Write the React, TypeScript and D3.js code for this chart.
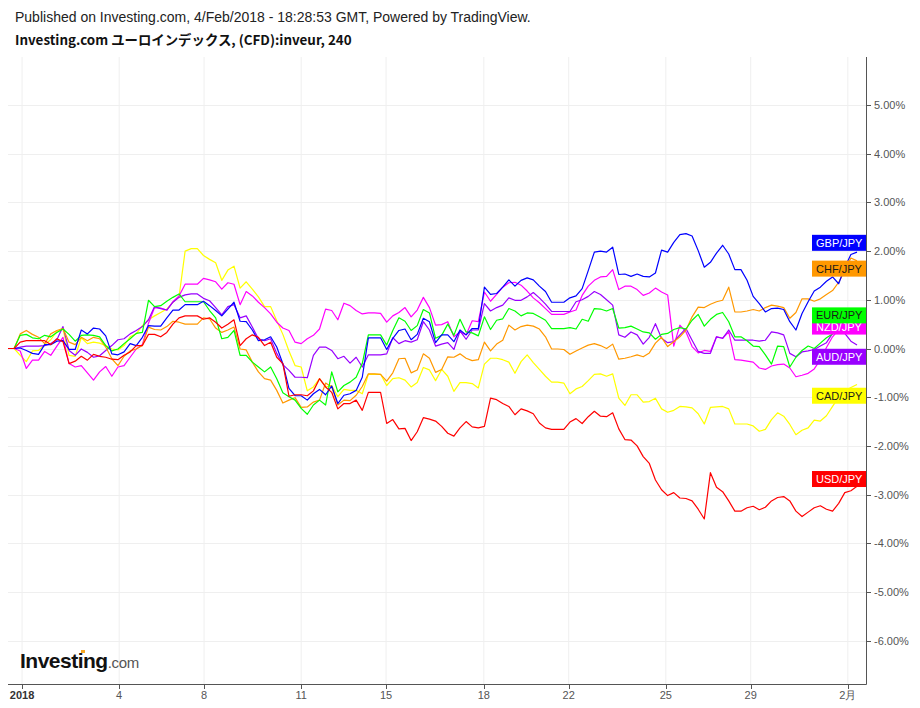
import React from "react";
import * as d3 from "d3";

// ---- data (percent change, 4H bars) ----
const seriesNames = ["GBP/JPY", "CHF/JPY", "EUR/JPY", "NZD/JPY", "AUD/JPY", "CAD/JPY", "USD/JPY"];

const gbp = [0,0,0.01,-0.04,-0.10,-0.12,0.08,0.08,0.15,0.16,-0.02,-0.02,0.38,0.30,0.42,0.40,0.26,-0.11,-0.13,-0.07,0.10,0.06,0.23,0.47,0.46,0.46,0.63,0.79,0.79,0.90,0.90,0.90,0.97,0.88,
0.78,0.67,0.81,0.95,0.56,0.55,0.38,0.16,0.18,0.24,0.03,-0.31,-0.82,-0.97,-0.97,-1.06,-0.93,-0.84,-0.95,-0.77,-1.13,-0.96,-0.93,-0.86,-0.59,0.22,0.22,0.22,-0.02,0.21,0.37,0.40,0.18,0.29,0.62,
0.55,0.12,0.28,0.28,0.14,0.38,0.28,0.41,0.41,1.26,1.11,1.13,1.26,1.41,1.28,1.40,1.45,1.41,1.28,1.17,0.95,0.95,0.95,1.04,1.08,1.23,1.60,1.98,2.00,1.98,2.08,1.52,1.53,1.48,1.53,1.48,
1.47,1.55,2.02,1.98,2.18,2.34,2.36,2.31,2.01,1.67,1.77,1.96,2.12,1.94,1.62,1.62,1.40,1.07,0.92,0.75,0.82,0.83,0.80,0.55,0.38,0.72,0.96,1.18,1.26,1.38,1.47,1.33,1.67,1.93,1.98];

const chf = [0,0,0.30,0.37,0.29,0.23,0.10,0.30,0.37,0.41,0.13,0.08,0.23,0.16,0.23,0.20,0.03,-0.21,-0.35,-0.16,-0.05,-0.01,0.06,0.44,0.39,0.38,0.45,0.56,0.54,0.50,0.50,0.50,0.63,0.61,
0.42,0.33,0.38,0.44,-0.01,-0.03,-0.28,-0.48,-0.62,-0.65,-0.86,-1.12,-1.06,-1.01,-1.21,-1.20,-1.10,-1.06,-0.71,-0.79,-1.16,-1.06,-1.07,-0.96,-0.78,-0.52,-0.52,-0.53,-0.67,-0.50,-0.21,-0.20,-0.50,-0.44,-0.11,
-0.20,-0.49,-0.43,-0.17,-0.18,-0.11,-0.20,-0.25,-0.23,0.13,-0.05,0.09,0.17,0.48,0.38,0.45,0.48,0.46,0.40,0.24,-0.01,-0.01,-0.02,-0.12,-0.05,0.01,0.07,0.10,0.06,0.00,0.09,-0.22,-0.20,-0.17,-0.13,-0.17,
-0.09,0.11,0.23,0.04,0.14,0.24,0.38,0.65,0.85,0.84,0.91,0.96,0.99,1.26,0.75,0.75,0.77,0.80,0.77,0.84,0.89,0.87,0.84,0.62,0.74,1.02,1.02,0.97,1.02,1.11,1.19,1.36,1.60,1.86,1.80];

const eur = [0,0,0.27,0.29,0.22,0.20,0.27,0.24,0.33,0.40,0.29,0.15,0.27,0.28,0.27,0.24,0.06,-0.05,-0.01,0.10,0.20,0.31,0.33,0.99,0.86,0.88,0.97,1.05,1.12,0.96,0.96,0.96,0.96,0.78,
0.63,0.20,0.23,0.37,-0.14,-0.14,-0.28,-0.38,-0.48,-0.38,-0.62,-0.91,-0.99,-1.06,-1.23,-1.35,-1.16,-1.06,-1.16,-0.48,-0.89,-0.76,-0.69,-0.59,-0.31,0.28,0.28,0.28,0.07,0.37,0.63,0.56,0.37,0.47,0.80,
0.73,0.21,0.27,0.50,0.27,0.60,0.34,0.32,0.26,0.65,0.39,0.58,0.61,0.82,0.77,0.67,0.73,0.72,0.65,0.58,0.41,0.41,0.41,0.43,0.40,0.60,0.56,0.82,0.81,0.77,0.82,0.42,0.43,0.46,0.40,0.34,
0.32,0.19,0.29,0.31,0.39,0.43,0.40,0.58,0.70,0.46,0.60,0.70,0.74,0.55,0.24,0.24,0.16,0.05,0.04,-0.13,-0.32,0.05,0.04,-0.38,-0.18,-0.04,0.05,0.00,0.11,0.22,0.30,0.48,0.67,0.68,0.68];

const nzd = [0,0,-0.05,-0.41,-0.24,-0.24,-0.06,-0.14,0.05,0.23,-0.31,-0.38,-0.35,-0.50,-0.65,-0.48,-0.37,-0.57,-0.38,-0.35,-0.18,-0.01,0.08,0.52,0.84,0.83,0.79,0.96,1.08,1.32,1.32,1.32,1.44,1.41,
1.37,1.22,1.35,1.32,0.90,1.17,1.08,0.95,0.84,0.71,0.54,0.42,0.37,0.13,0.10,0.20,0.27,0.40,0.81,0.78,0.59,0.93,0.88,0.78,0.71,0.73,0.73,0.72,0.54,0.67,0.74,0.84,0.65,0.79,1.05,
0.84,0.48,0.49,0.55,0.24,0.34,0.28,0.57,0.55,1.16,0.97,1.11,1.26,1.35,1.36,1.30,1.18,1.04,0.94,0.82,0.70,0.70,0.70,0.75,0.79,1.09,1.28,1.40,1.47,1.48,1.62,1.21,1.28,1.28,1.21,1.09,
1.14,1.24,1.16,1.10,0.05,0.48,0.34,0.04,-0.09,-0.04,-0.06,0.24,0.21,0.34,-0.23,-0.24,-0.26,-0.28,-0.40,-0.43,-0.36,-0.33,-0.32,-0.40,-0.58,-0.55,-0.51,-0.42,-0.23,0.02,0.24,0.39,0.45,0.45,0.45];

const aud = [0,0,0.03,0.05,0.05,0.05,0.06,0.10,0.18,0.45,-0.04,-0.14,-0.01,-0.08,-0.18,-0.15,-0.04,0.06,0.18,0.20,0.30,0.37,0.45,0.59,0.86,0.82,0.79,0.95,1.05,1.10,1.12,1.12,1.03,0.98,
0.84,0.69,0.86,0.90,0.63,0.67,0.44,0.20,0.16,0.20,-0.10,-0.33,-0.45,-0.59,-0.59,-0.60,-0.14,0.03,0.03,-0.04,-0.21,-0.16,-0.30,-0.18,-0.38,-0.13,-0.13,-0.13,-0.11,0.22,0.10,0.16,0.13,0.18,0.55,
0.38,0.05,0.09,0.12,-0.02,0.36,0.19,0.38,0.38,0.92,0.77,0.84,0.89,1.04,0.99,0.99,1.06,1.15,1.04,0.91,0.76,0.76,0.76,0.76,0.96,1.00,1.07,1.17,1.11,1.00,0.89,0.28,0.23,0.34,0.28,0.09,
0.23,0.51,0.21,0.12,0.14,0.28,0.41,0.17,-0.06,-0.10,-0.10,0.24,0.21,0.38,0.17,0.17,0.17,0.17,0.15,0.17,0.34,0.32,0.28,-0.10,-0.17,-0.07,-0.05,-0.02,0.05,0.12,0.31,0.41,0.31,0.15,0.07];

const cad = [0,0,-0.14,-0.27,-0.05,-0.04,0.08,0.18,0.35,0.40,-0.14,-0.16,0.22,0.10,0.13,0.11,0.06,-0.01,-0.03,0.06,0.24,0.30,0.47,0.59,0.67,0.74,0.81,0.95,1.06,2.00,2.05,2.05,1.91,1.83,
1.76,1.40,1.61,1.69,1.24,1.37,1.22,1.06,0.86,0.86,0.57,0.29,-0.05,-0.35,-0.38,-0.87,-0.79,-0.62,-0.79,-0.76,-0.99,-0.84,-0.86,-0.86,-0.93,-0.53,-0.53,-0.53,-0.76,-0.62,-0.60,-0.65,-0.79,-0.70,-0.39,
-0.44,-0.66,-0.43,-0.57,-0.88,-0.70,-0.70,-0.72,-0.81,-0.32,-0.20,-0.20,-0.23,-0.28,-0.51,-0.27,-0.13,-0.29,-0.43,-0.57,-0.69,-0.69,-0.71,-0.93,-0.83,-0.78,-0.66,-0.53,-0.52,-0.57,-0.52,-1.02,-1.17,-0.95,-0.95,-1.10,
-1.09,-1.02,-1.24,-1.31,-1.27,-1.19,-1.20,-1.22,-1.34,-1.55,-1.21,-1.20,-1.19,-1.24,-1.55,-1.55,-1.55,-1.59,-1.70,-1.66,-1.46,-1.32,-1.39,-1.56,-1.77,-1.68,-1.63,-1.47,-1.49,-1.38,-1.19,-1.00,-0.88,-0.80,-0.74];

const usd = [0,0,0.13,0.16,0.16,0.16,0.16,0.08,0.20,0.14,-0.31,-0.26,-0.16,-0.24,-0.12,-0.16,-0.18,-0.22,-0.23,-0.14,-0.07,0.06,0.06,0.29,0.29,0.24,0.33,0.50,0.63,0.67,0.67,0.67,0.60,0.63,
0.54,0.42,0.50,0.59,0.06,0.20,0.28,0.23,0.06,0.13,-0.18,-0.31,-0.98,-0.95,-0.95,-0.97,-0.87,-0.62,-0.79,-0.90,-1.24,-1.13,-1.13,-1.06,-1.27,-0.90,-0.90,-0.90,-1.54,-1.46,-1.65,-1.64,-1.89,-1.71,-1.42,
-1.45,-1.49,-1.60,-1.74,-1.80,-1.63,-1.50,-1.61,-1.63,-1.60,-1.02,-1.05,-1.13,-1.19,-1.36,-1.24,-1.28,-1.34,-1.53,-1.63,-1.66,-1.66,-1.66,-1.51,-1.44,-1.54,-1.40,-1.29,-1.39,-1.40,-1.32,-1.65,-1.87,-1.88,-2.00,-2.22,
-2.36,-2.70,-2.90,-3.02,-2.96,-3.07,-3.08,-3.13,-3.30,-3.50,-2.55,-2.85,-2.94,-3.13,-3.34,-3.34,-3.27,-3.24,-3.31,-3.26,-3.13,-3.06,-3.04,-3.13,-3.34,-3.45,-3.36,-3.27,-3.23,-3.30,-3.34,-3.18,-2.96,-2.92,-2.83];

// last-value tags (percent) as shown on the price scale
const tagValues = [2.17, 1.64, 0.68, 0.45, -0.17, -0.97, -2.68];

// x-axis ticks: bar index position and label
const xTickIdx = [2.3, 18.2, 32.1, 48.0, 61.9, 77.9, 91.8, 107.7, 121.6, 137.5];
const xTickLabels = ["2018", "4", "8", "11", "15", "18", "22", "25", "29", "2月"];

// y-axis ticks (percent)
const yTicks = [-6, -5, -4, -3, -2, -1, 0, 1, 2, 3, 4, 5];

const seriesValues = [gbp, chf, eur, nzd, aud, cad, usd];
const lineColors = ["#0000ff", "#ff9800", "#00ff00", "#ff00ff", "#9900ff", "#ffff00", "#ff0000"];
const tagText = ["#ffffff", "#1a1a1a", "#1a1a1a", "#ffffff", "#ffffff", "#1a1a1a", "#ffffff"];
const drawOrder = [5, 3, 4, 1, 2, 0, 6];
const tagOrder = [0, 1, 3, 2, 4, 5, 6];

const L = 8, R = 866, T = 57, B = 684;

export default function App() {
  const x = d3.scaleLinear().domain([0, 139]).range([8, 857]);
  const y = d3.scaleLinear().domain([-6, 5]).range([640.7, 105]);
  const line = d3.line<number>().x((_, i) => x(i)).y((d) => y(d));
  const sans = "'Liberation Sans', Arial, sans-serif";

  return (
    <div style={{ position: "absolute", left: 0, top: 0 }}>
      <svg width={920} height={708} style={{ display: "block", background: "#ffffff" }}>
        <defs>
          <clipPath id="plotclip">
            <rect x={L} y={T} width={R - L} height={B - T} />
          </clipPath>
        </defs>
        <text x={15} y={22} fontFamily={sans} fontSize={14} fill="#222">
          Published on Investing.com, 4/Feb/2018 - 18:28:53 GMT, Powered by TradingView.
        </text>
        <text x={15} y={45} fontFamily="'Noto Sans CJK JP', sans-serif" fontWeight="bold" fontSize={13.4} fill="#111">
          Investing.com ユーロインデックス, (CFD):inveur, 240
        </text>

        {/* grid */}
        {xTickIdx.map((t, i) => (
          <line key={"gx" + i} x1={x(t)} x2={x(t)} y1={T} y2={B} stroke="#efefef" strokeWidth={1} />
        ))}
        {yTicks.map((t) => (
          <line key={"gy" + t} x1={L} x2={R} y1={Math.round(y(t)) + 0.5} y2={Math.round(y(t)) + 0.5} stroke="#efefef" strokeWidth={1} />
        ))}

        {/* logo */}
        <text x={20} y={668} fontFamily={sans} fontWeight="bold" fontSize={21} fill="#111" letterSpacing={-0.5}>
          Investing<tspan fontWeight="normal" fontSize={15} fill="#555" letterSpacing={-0.3}>.com</tspan>
        </text>
        <rect x={81} y={650} width={4} height={3} fill="#f5a623" />

        {/* lines */}
        <g clipPath="url(#plotclip)">
          {drawOrder.map((k) => (
            <path key={seriesNames[k]} d={line(seriesValues[k]) || ""} fill="none" stroke={lineColors[k]} strokeWidth={1.2} strokeLinejoin="round" />
          ))}
        </g>

        {/* axes */}
        <line x1={L} x2={R + 0.5} y1={B + 0.5} y2={B + 0.5} stroke="#555" strokeWidth={1} />
        <line x1={R + 0.5} x2={R + 0.5} y1={T} y2={B + 0.5} stroke="#555" strokeWidth={1} />
        {yTicks.map((t) => (
          <g key={"yt" + t}>
            <line x1={R} x2={R + 5} y1={Math.round(y(t)) + 0.5} y2={Math.round(y(t)) + 0.5} stroke="#555" />
            <text x={874} y={y(t) + 4} fontFamily={sans} fontSize={11} fill="#555">
              {t.toFixed(2) + "%"}
            </text>
          </g>
        ))}
        {xTickIdx.map((t, i) => (
          <g key={"xt" + i}>
            <line x1={Math.round(x(t)) + 0.5} x2={Math.round(x(t)) + 0.5} y1={B} y2={B + 5} stroke="#555" />
            <text x={x(t)} y={699} textAnchor="middle" fontFamily={sans} fontSize={11}
              fontWeight={i === 0 ? "bold" : "normal"} fill={i === 0 ? "#333" : "#555"}>
              {xTickLabels[i]}
            </text>
          </g>
        ))}

        {/* last-value tags */}
        {tagOrder.map((k) => {
          const cy = y(tagValues[k]);
          return (
            <g key={"tag" + k}>
              <rect x={812} y={cy - 8} width={54} height={16} fill={lineColors[k]} />
              <text x={816} y={cy + 4} fontFamily={sans} fontSize={11} fill={tagText[k]}>
                {seriesNames[k]}
              </text>
            </g>
          );
        })}
      </svg>
    </div>
  );
}
